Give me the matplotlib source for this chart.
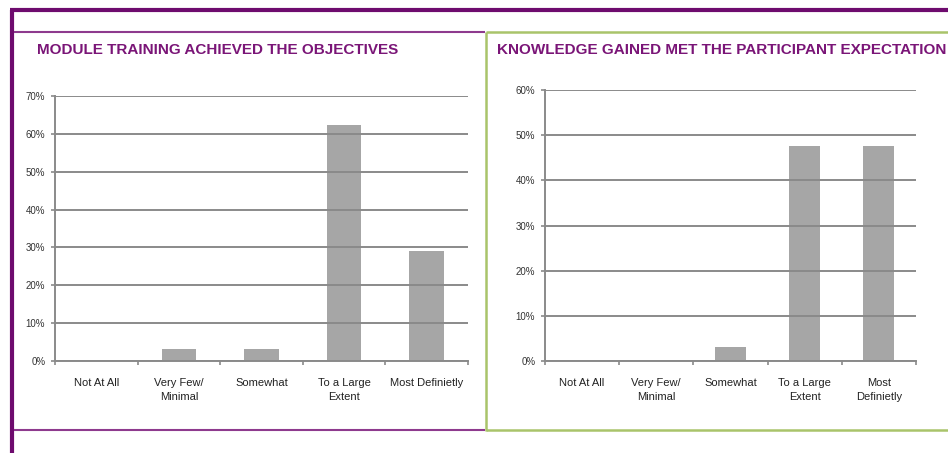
import matplotlib
matplotlib.use("Agg")
import matplotlib.pyplot as plt
from matplotlib.lines import Line2D
from matplotlib import font_manager

categories_left = ["Not At All", "Very Few/\nMinimal", "Somewhat", "To a Large\nExtent", "Most Definietly"]
values_left = [0, 3.2, 3.2, 62.3, 29.0]
categories_right = ["Not At All", "Very Few/\nMinimal", "Somewhat", "To a Large\nExtent", "Most\nDefinietly"]
values_right = [0, 0, 3.1, 47.6, 47.6]
title_left = "MODULE TRAINING ACHIEVED THE OBJECTIVES"
title_right = "KNOWLEDGE GAINED MET THE PARTICIPANT EXPECTATION"
yticks_left = [0, 10, 20, 30, 40, 50, 60, 70]
yticks_right = [0, 10, 20, 30, 40, 50, 60]

names = {f.name for f in font_manager.fontManager.ttflist}
narrow = "Liberation Sans Narrow" if "Liberation Sans Narrow" in names else "Liberation Sans"
fam = [narrow, "DejaVu Sans"]

W, H = 948, 453
fig = plt.figure(figsize=(W / 100, H / 100), dpi=100)
fig.patch.set_facecolor("white")

def fx(x):
    return x / W

def fy(y):
    return 1 - y / H

def line(x0, y0, x1, y1, color, lw):
    fig.add_artist(Line2D([fx(x0), fx(x1)], [fy(y0), fy(y1)], color=color, lw=lw,
                          transform=fig.transFigure, solid_capstyle="butt"))

purple_dark = "#6e0b6e"
purple = "#8e3a8e"
green = "#a9c46a"

# outer frame
line(10, 10, W, 10, purple_dark, 3.0)
line(12, 10, 12, H, purple_dark, 3.0)
# left panel
line(14, 32, 485, 32, purple, 1.5)
line(14, 430, 485, 430, purple, 1.5)
# right panel
line(486, 32, W, 32, green, 1.8)
line(486, 430, W, 430, green, 1.8)
line(486, 32, 486, 431, green, 1.8)

bar_color = "#a6a6a6"
grid_color = "#8a8a8a"

def make_panel(left, right, top, bottom, cats, vals, ymax, yticks, title, tx):
    ax = fig.add_axes([fx(left), fy(bottom), fx(right - left), (bottom - top) / H])
    x = list(range(len(cats)))
    ax.bar(x, vals, width=0.42, color=bar_color, zorder=2)
    ax.set_xlim(-0.5, len(cats) - 0.5)
    ax.set_ylim(0, ymax)
    ax.set_yticks(yticks)
    ax.set_yticklabels([f"{t}%" for t in yticks], fontsize=7, family=fam, color="#333333")
    ax.yaxis.grid(True, color=grid_color, lw=1.4, zorder=3)
    ax.set_axisbelow(False)
    ax.set_xticks([i - 0.5 for i in range(len(cats) + 1)])
    ax.set_xticklabels([])
    ax.set_xticks(x, minor=True)
    ax.set_xticklabels(cats, minor=True, fontsize=8, family=fam, color="#222222",
                       linespacing=1.6)
    ax.tick_params(axis="x", which="minor", length=0, pad=12)
    ax.tick_params(axis="x", which="major", length=3, color=grid_color, width=1.2)
    ax.tick_params(axis="y", length=3, color=grid_color, width=1.2, pad=4)
    for s in ["top", "right"]:
        ax.spines[s].set_visible(False)
    for s in ["left", "bottom"]:
        ax.spines[s].set_color(grid_color)
        ax.spines[s].set_linewidth(1.4)
    ax.patch.set_alpha(0)
    fig.text(fx(tx), fy(50), title, color="#7a1577", fontsize=11, fontweight="bold",
             family=fam, va="center", ha="left")
    return ax

make_panel(55, 468, 96, 361, categories_left, values_left, 70, yticks_left, title_left, 37)
make_panel(545, 916, 90, 361, categories_right, values_right, 60, yticks_right, title_right, 497)

fig.savefig("out.png", dpi=100, facecolor="white")
